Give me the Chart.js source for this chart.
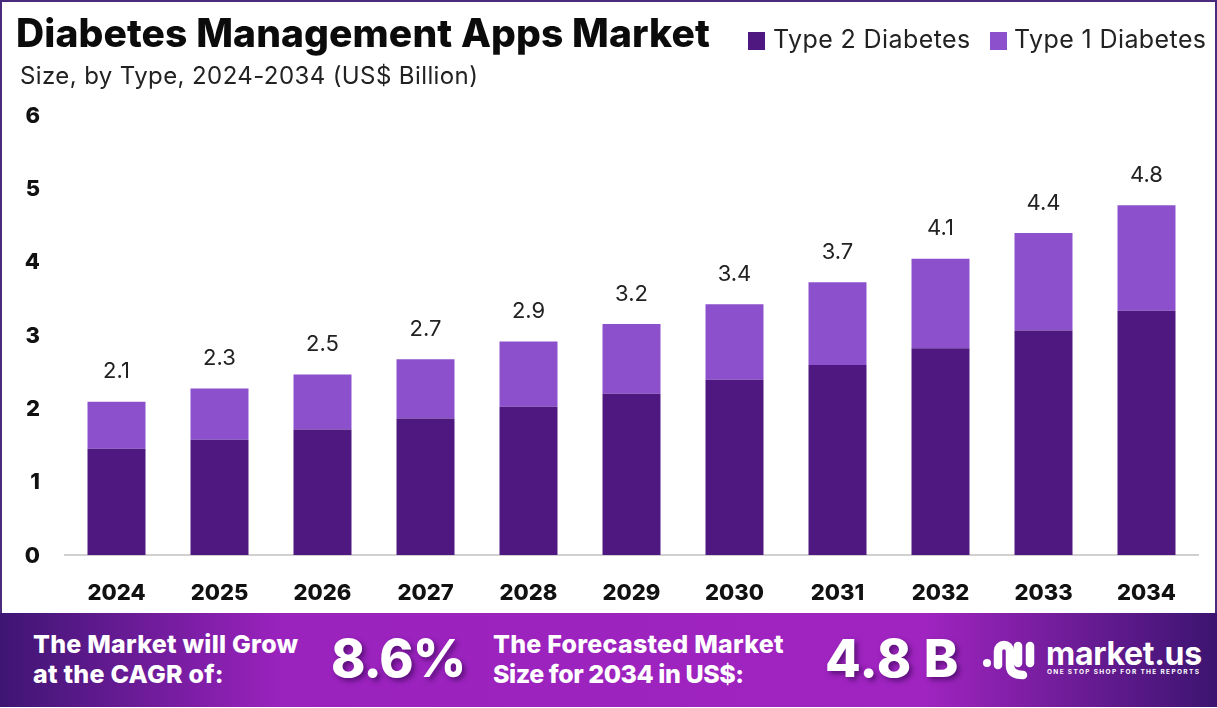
<!DOCTYPE html>
<html>
<head>
<meta charset="utf-8">
<script src="https://cdn.jsdelivr.net/npm/chart.js@4"></script>
<style>
  html, body { margin: 0; padding: 0; background: #fff; }
  body { width: 1217px; height: 708px; position: relative; overflow: hidden; font-family: Inter, sans-serif; color: #111; }
  #frame { position: absolute; left: 0; top: 0; width: 1213px; height: 612px; border: 2px solid #4a2a7d; border-bottom: 0; }
  canvas { position: absolute; left: 0; top: 0; }
  .abs { position: absolute; white-space: nowrap; }
  #title { left: 16px; top: 9px; font-size: 39px; font-weight: 800; letter-spacing: 0.1px; color: #0b0b0b; }
  #sub { left: 20px; top: 61px; font-size: 24px; font-weight: 400; letter-spacing: 0.4px; color: #222; }
  .swatch { position: absolute; top: 32px; width: 17px; height: 18px; }
  .leg { top: 24px; font-size: 25px; letter-spacing: 0.4px; color: #222; }
  #banner { position: absolute; left: 0; top: 613px; width: 1217px; height: 94px;
    background: linear-gradient(90deg, #3e1573 0%, #9a22bd 23%, #a024c0 76%, #3c1470 100%); }
  .band { color: #fff; font-weight: 800; font-size: 25px; line-height: 30px; letter-spacing: 0.25px; }
  .big { color: #fff; font-weight: 800; font-size: 52px; letter-spacing: -1px; text-shadow: 3px 3px 5px rgba(40,0,70,.55); }
</style>
</head>
<body>
<div id="frame"></div>
<canvas id="c" width="1217" height="612"></canvas>
<div class="abs" id="title">Diabetes Management Apps Market</div>
<div class="abs" id="sub">Size, by Type, 2024-2034 (US$ Billion)</div>
<div id="legend"></div>
<div id="banner">
  <div class="abs band" style="left:33px;top:16px">The Market will Grow<br>at the CAGR of:</div>
  <div class="abs big" style="left:331px;top:14px">8.6%</div>
  <div class="abs band" style="left:493px;top:16px">The Forecasted Market<br><span style="letter-spacing:-.45px">Size for 2034 in US$:</span></div>
  <div class="abs big" style="left:825px;top:14px;letter-spacing:.5px">4.8 B</div>
  <svg class="abs" style="left:980px;top:22px" width="62" height="46" viewBox="0 0 62 46" fill="none" stroke="#fff" stroke-width="8.5" stroke-linecap="round">
    <circle cx="7" cy="28" r="4" fill="#fff" stroke="none"/>
    <path d="M18 30 V16 a6 6 0 0 1 12 0 V30 Q30 40 43 40"/>
    <path d="M38 11 V28"/>
    <path d="M50 11 V28"/>
  </svg>
  <div class="abs" style="left:1046px;top:21px;font-size:32px;font-weight:700;color:#fff;letter-spacing:-.3px">market.us</div>
  <div class="abs" style="left:1047px;top:55px;font-size:6.5px;font-weight:700;color:#fff;letter-spacing:1.35px">ONE STOP SHOP FOR THE REPORTS</div>
</div>
<script>
const years = ["2024","2025","2026","2027","2028","2029","2030","2031","2032","2033","2034"];
const type2 = [1.45,1.57,1.71,1.86,2.02,2.2,2.39,2.59,2.82,3.06,3.33];
const type1 = [0.64,0.70,0.75,0.81,0.89,0.95,1.03,1.13,1.22,1.33,1.44];
const totalLabels = ["2.1","2.3","2.5","2.7","2.9","3.2","3.4","3.7","4.1","4.4","4.8"];
const yTicks = [0,1,2,3,4,5,6];
const seriesNames = ["Type 2 Diabetes","Type 1 Diabetes"];
const seriesColors = ["#4f1880","#8c50cc"];

// legend sits up by the title, outside the plot, so it is plain html
const legendX = [[748,773],[990,1014]];
document.getElementById("legend").innerHTML = seriesNames.map((n, i) =>
  `<div class="swatch" style="left:${legendX[i][0]}px;background:${seriesColors[i]}"></div>` +
  `<div class="abs leg" style="left:${legendX[i][1]}px">${n}</div>`).join("");

// total above each stack
const totals = {
  id: "totals",
  afterDatasetsDraw(chart) {
    const { ctx, scales: { x, y } } = chart;
    ctx.save();
    ctx.font = "400 22px Inter, sans-serif";
    ctx.fillStyle = "#222";
    ctx.textAlign = "center";
    ctx.textBaseline = "middle";
    years.forEach((yr, i) => {
      ctx.fillText(totalLabels[i], x.getPixelForValue(i), y.getPixelForValue(type2[i] + type1[i]) - 30);
    });
    ctx.restore();
  },
};

new Chart(document.getElementById("c"), {
  type: "bar",
  data: {
    labels: years,
    datasets: [
      { label: seriesNames[0], data: type2, backgroundColor: seriesColors[0] },
      { label: seriesNames[1], data: type1, backgroundColor: seriesColors[1] },
    ],
  },
  options: {
    responsive: false,
    animation: false,
    devicePixelRatio: 1,
    layout: { padding: { top: 115, right: 19, left: 0, bottom: 0 } },
    categoryPercentage: 0.563,
    barPercentage: 1,
    plugins: { legend: { display: false }, tooltip: { enabled: false } },
    scales: {
      x: {
        stacked: true,
        grid: { display: false, drawTicks: false },
        border: { color: "#d0d0d0", width: 2 },
        ticks: { color: "#111", padding: 25, font: { family: "Inter", size: 22, weight: "800" } },
        afterFit(s) { s.height = 57; },
      },
      y: {
        stacked: true,
        min: 0,
        max: 6,
        grid: { display: false, drawTicks: false },
        border: { display: false },
        afterBuildTicks(s) { s.ticks = yTicks.map((v) => ({ value: v })); },
        ticks: { color: "#111", padding: 25, labelOffset: 1, font: { family: "Inter", size: 22, weight: "800" } },
        afterFit(s) { s.width = 65; },
      },
    },
  },
  plugins: [totals],
});
</script>
</body>
</html>
